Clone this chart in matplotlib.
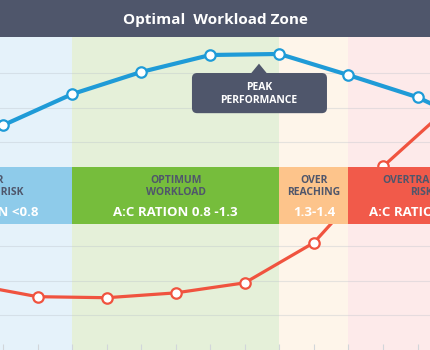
import numpy as np
import matplotlib
matplotlib.use('Agg')
import matplotlib.pyplot as plt
import matplotlib.patches as mpatches

plt.rcParams['font.family'] = ['Open Sans', 'DejaVu Sans']

# --- data -----------------------------------------------------------------
# performance curve (blue) and injury-risk curve (red), x in workload steps
PERF_X = [-1, 0, 1, 2, 3, 4, 5, 6, 7]
PERF_Y = [5.6, 6.49, 7.39, 8.03, 8.52, 8.55, 7.94, 7.30, 6.35]
RISK_X = [-0.5, 0.5, 1.5, 2.5, 3.5, 4.5, 5.5, 6.5]
RISK_Y = [1.91, 1.54, 1.51, 1.65, 1.94, 3.10, 5.30, 7.10]
MARK_PERF = slice(1, 8)
MARK_RISK = slice(1, 7)

ZONE_EDGES = [-1, 1, 4, 5, 7]
ZONE_BG = ['#e5f2fa', '#e5f0d9', '#fef5ea', '#fdeaea']
ZONE_BAND = ['#8ecbea', '#76bd3c', '#fdc48b', '#f15a4a']
ZONE_TEXT_X = [-0.25, 2.5, 4.5, 6.06]
ZONE_NAMES = ['UNDER\nTRAINING RISK', 'OPTIMUM\nWORKLOAD', 'OVER\nREACHING',
              'OVERTRAINING\nRISK']
ZONE_RATIOS = ['A:C RATION <0.8', 'A:C RATION 0.8 -1.3', '1.3-1.4',
               'A:C RATION >1.5']

TITLE = 'Optimal  Workload Zone'
PEAK_LABEL = 'PEAK\nPERFORMANCE'

DARK = '#4f566b'
BLUE = '#1f9bd7'
RED = '#f0533f'

fig = plt.figure(figsize=(4.3, 3.5), dpi=100)
fig.patch.set_facecolor('white')

# title bar
tax = fig.add_axes([0, 1 - 37 / 350, 1, 37 / 350])
tax.set_facecolor(DARK)
tax.set_xticks([]); tax.set_yticks([])
for s in tax.spines.values():
    s.set_visible(False)
tax.text(0.5, 0.47, TITLE, color='white', fontsize=11, fontweight='bold',
         ha='center', va='center', transform=tax.transAxes)

# main area
ax = fig.add_axes([0, 0, 1, 1 - 37 / 350])
ax.set_xlim(-0.043, 6.18)
ax.set_ylim(0, 9.04)
for s in ax.spines.values():
    s.set_visible(False)

for i in range(4):
    ax.axvspan(ZONE_EDGES[i], ZONE_EDGES[i + 1], color=ZONE_BG[i], lw=0, zorder=0)

for g in range(1, 9):
    ax.axhline(g, color='#b9c0c8', lw=0.8, alpha=0.35, zorder=1)

ax.set_xticks(np.arange(0, 6.5, 0.5))
ax.set_yticks([])
ax.tick_params(axis='x', direction='in', length=4, width=0.8, color='#d2d6da',
               labelbottom=False)

# curves
ax.plot(PERF_X, PERF_Y, color=BLUE, lw=3.0, zorder=3, solid_capstyle='round')
ax.plot(PERF_X[MARK_PERF], PERF_Y[MARK_PERF], ls='none', marker='o', ms=7.5,
        mfc='white', mec=BLUE, mew=1.6, zorder=4)
ax.plot(RISK_X, RISK_Y, color=RED, lw=2.3, zorder=3)
ax.plot(RISK_X[MARK_RISK], RISK_Y[MARK_RISK], ls='none', marker='o', ms=7.5,
        mfc='white', mec=RED, mew=1.6, zorder=4)

# zone band
band_lo, band_hi = 3.65, 5.28
for i in range(4):
    ax.add_patch(mpatches.Rectangle((ZONE_EDGES[i], band_lo),
                                    ZONE_EDGES[i + 1] - ZONE_EDGES[i],
                                    band_hi - band_lo, fc=ZONE_BAND[i], lw=0,
                                    zorder=5))
    ax.text(ZONE_TEXT_X[i], 4.72, ZONE_NAMES[i], color=DARK, fontsize=7.5,
            fontweight='bold', ha='center', va='center', linespacing=1.15,
            zorder=6, clip_on=True)
    ax.text(ZONE_TEXT_X[i], 3.98, ZONE_RATIOS[i], color='white', fontsize=9.5,
            fontweight='bold', ha='center', va='center', zorder=6, clip_on=True)

# peak performance callout
box = mpatches.FancyBboxPatch((2.735, 6.84), 1.954, 1.16,
                              boxstyle='round,pad=0,rounding_size=0.075',
                              mutation_aspect=2.0, fc=DARK, ec='none', zorder=6)
ax.add_patch(box)
ax.add_patch(mpatches.Polygon([[3.59, 7.99], [3.705, 8.27], [3.82, 7.99]],
                              closed=True, fc=DARK, ec='none', zorder=6))
ax.text(3.705, 7.40, PEAK_LABEL, color='white', fontsize=7.5, fontweight='bold',
        ha='center', va='center', linespacing=1.2, zorder=7)

fig.savefig('out.png', dpi=100)
